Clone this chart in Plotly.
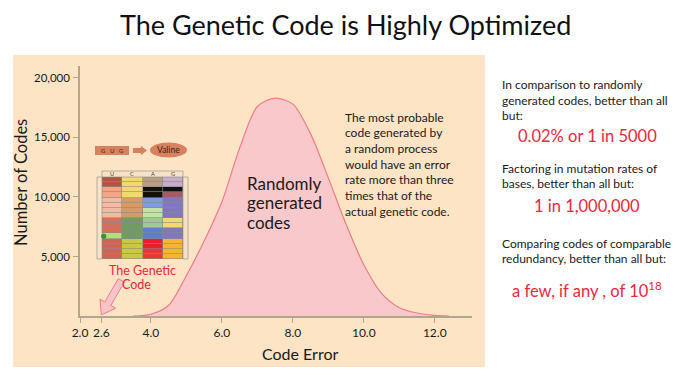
import plotly.graph_objects as go

# ---------------- data ----------------
code_error = [3.5, 4.0, 4.5, 5.0, 5.5, 6.0, 6.5, 7.0, 7.5, 8.0, 8.5, 9.0, 9.5, 10.0, 10.5, 11.0, 11.5, 12.0, 12.4]
num_codes = [0, 150, 900, 3400, 6300, 9600, 14100, 17600, 18300, 17800, 15300, 11600, 7700, 4300, 1900, 700, 250, 60, 0]

x_tick_vals = [2.0, 2.6, 4.0, 6.0, 8.0, 10.0, 12.0]
x_tick_text = ["2.0", "2.6", "4.0", "6.0", "8.0", "10.0", "12.0"]
y_tick_vals = [5000, 10000, 15000, 20000]
y_tick_text = ["5,000", "10,000", "15,000", "20,000"]
genetic_code_error = 2.6

title_text = "The Genetic Code is Highly Optimized"
x_title = "Code Error"
y_title = "Number of Codes"
curve_label = ["Randomly", "generated", "codes"]
note_lines = ["The most probable", "code generated by", "a random process",
              "would have an error", "rate more than three", "times that of the",
              "actual genetic code."]
gc_label = ["The Genetic", "Code"]
side_blocks = [
    (["In comparison to randomly", "generated codes, better than all", "but:"], "0.02% or 1 in 5000"),
    (["Factoring in mutation rates of", "bases, better than all but:"], "1 in 1,000,000"),
    (["Comparing codes of comparable", "redundancy, better than all but:"], "a few, if any , of 10<sup>18</sup>"),
]

# genetic code table (rows = first+third base, cols = second base U C A G)
code_table = [
    ["Phe", "Ser", "Tyr", "Cys"],
    ["Phe", "Ser", "Tyr", "Cys"],
    ["Leu", "Ser", "Stop", "Stop"],
    ["Leu", "Ser", "Stop", "Trp"],
    ["Leu2", "Pro", "His", "Arg"],
    ["Leu2", "Pro", "His", "Arg"],
    ["Leu2", "Pro", "Gln", "Arg"],
    ["Leu2", "Pro", "Gln", "Arg"],
    ["Ile", "Thr", "Asn", "Ser"],
    ["Ile", "Thr", "Asn", "Ser"],
    ["Ile", "Thr", "Lys", "Arg"],
    ["Met", "Thr", "Lys", "Arg"],
    ["Val", "Ala", "Asp", "Gly"],
    ["Val", "Ala", "Asp", "Gly"],
    ["Val", "Ala", "Glu", "Gly"],
    ["Val", "Ala", "Glu", "Gly"],
]
aa_colors = {
    "Phe": "#B3563D", "Leu": "#F2A487", "Leu2": "#F5B8A0", "Ile": "#D2705A",
    "Met": "#B5DD7C", "Val": "#CC6652", "Ser": "#F3D86E", "Pro": "#D69A62",
    "Thr": "#6F9C62", "Ala": "#C9C648", "Tyr": "#B89C84", "Stop": "#111111",
    "His": "#7E9CDB", "Gln": "#C3E2A5", "Asn": "#9DCB92", "Lys": "#5B7FCB",
    "Asp": "#E8222D", "Glu": "#E33A34", "Cys": "#C6ADCB", "Trp": "#A35B6B",
    "Arg": "#8076C2", "Gly": "#F4B632",
}

# ---------------- layout geometry ----------------
# the page body adds an 8px offset; the figure is sized to fit inside the window
OFF = 8
W, H = 698 - OFF, 382 - OFF
X0, X1, Y0, Y1 = 80, 472, 66, 316          # plot area in window pixels
ML, MT = X0 - OFF, Y0 - OFF
MR, MB = W - (X1 - OFF), H - (Y1 - OFF)
PW, PH = X1 - X0, Y1 - Y0
XR = [2.0, 13.05]
YR = [0, 21000]
FONT = "Lato, 'Open Sans', sans-serif"
RED = "#E8283C"


def pxx(px):
    return (px - X0) / PW


def pxy(py):
    return (Y1 - py) / PH


def px2dx(px):
    return XR[0] + (px - X0) / PW * (XR[1] - XR[0])


def px2dy(py):
    return YR[0] + (Y1 - py) / PH * (YR[1] - YR[0])


def dx2px(x):
    return X0 + (x - XR[0]) / (XR[1] - XR[0]) * PW


def dy2px(y):
    return Y1 - (y - YR[0]) / (YR[1] - YR[0]) * PH


fig = go.Figure()

fig.add_trace(go.Scatter(
    x=code_error, y=num_codes, mode="lines", fill="tozeroy",
    line=dict(color="#F07C88", width=1.2, shape="spline", smoothing=0.8),
    fillcolor="#F9C8CA", hoverinfo="skip", showlegend=False,
))

# heatmap inset for the genetic code table
names = list(aa_colors.keys())
idx = {n: i for i, n in enumerate(names)}
z = [[idx[c] for c in row] for row in code_table]
n = len(names)
cscale = [[i / (n - 1), aa_colors[nm]] for i, nm in enumerate(names)]
fig.add_trace(go.Heatmap(
    z=z, xaxis="x2", yaxis="y2", colorscale=cscale, zmin=0, zmax=n - 1,
    showscale=False, xgap=0.6, ygap=0.6, hoverinfo="skip",
))

shapes = []
# panel background
shapes.append(dict(type="rect", xref="paper", yref="paper", layer="below",
                   x0=pxx(13), x1=pxx(485), y0=pxy(367), y1=pxy(55),
                   fillcolor="#FDE4C4", line=dict(width=0)))
# table frame
gx0, gx1, gy0, gy1 = 102, 183, 177, 259
shapes.append(dict(type="rect", xref="paper", yref="paper", layer="below",
                   x0=pxx(gx0), x1=pxx(gx1), y0=pxy(gy1), y1=pxy(gy0),
                   fillcolor="#8A8A8A", line=dict(width=0)))
for (a, b) in [(97, gx0), (gx1, 188)]:
    shapes.append(dict(type="rect", xref="paper", yref="paper",
                       x0=pxx(a), x1=pxx(b), y0=pxy(gy1), y1=pxy(gy0),
                       fillcolor="#F6E2C6", line=dict(color="#8A8A8A", width=0.6)))
shapes.append(dict(type="rect", xref="paper", yref="paper",
                   x0=pxx(gx0), x1=pxx(gx1), y0=pxy(gy0), y1=pxy(171),
                   fillcolor="#F6E2C6", line=dict(color="#8A8A8A", width=0.6)))
# green dot on AUG
shapes.append(dict(type="circle", xref="paper", yref="paper",
                   x0=pxx(101.5), x1=pxx(106), y0=pxy(238.5), y1=pxy(234),
                   fillcolor="#2E9A3A", line=dict(color="#1E6A28", width=0.5)))
# GUG box, arrow, Valine ellipse
shapes.append(dict(type="rect", xref="paper", yref="paper",
                   x0=pxx(95), x1=pxx(129), y0=pxy(155), y1=pxy(146),
                   fillcolor="#D9805F", line=dict(width=0)))
ap = [(133, 148), (141, 148), (141, 146), (147, 150.5), (141, 155), (141, 153), (133, 153)]
shapes.append(dict(type="path", xref="paper", yref="paper",
                   path="M " + " L ".join(f"{pxx(a):.4f},{pxy(b):.4f}" for a, b in ap) + " Z",
                   fillcolor="#D9805F", line=dict(width=0)))
shapes.append(dict(type="circle", xref="paper", yref="paper",
                   x0=pxx(150), x1=pxx(187), y0=pxy(157.5), y1=pxy(142.5),
                   fillcolor="#D9805F", line=dict(width=0)))

# fat arrow pointing to the genetic code's error value
tx, ty = dx2px(genetic_code_error), dy2px(0) - 1
dxu, dyu = 0.5, -0.866
nx, ny = -dyu, dxu
head_len, head_w, shaft_w, total = 13, 9, 3.5, 40
bx, by = tx + head_len * dxu, ty + head_len * dyu
ex, ey = tx + total * dxu, ty + total * dyu
pts = [(tx, ty), (bx + head_w * nx, by + head_w * ny), (bx + shaft_w * nx, by + shaft_w * ny),
       (ex + shaft_w * nx, ey + shaft_w * ny), (ex - shaft_w * nx, ey - shaft_w * ny),
       (bx - shaft_w * nx, by - shaft_w * ny), (bx - head_w * nx, by - head_w * ny)]
shapes.append(dict(type="path", xref="x", yref="y",
                   path="M " + " L ".join(f"{px2dx(a):.4f},{px2dy(b):.2f}" for a, b in pts) + " Z",
                   fillcolor="#F9C4C8", line=dict(color="#EE8090", width=1)))

ann = []


def add_text(text, px, py, size, color="#1a1a1a", xanchor="left", **kw):
    ann.append(dict(text=text, xref="paper", yref="paper", x=pxx(px), y=pxy(py),
                    xanchor=xanchor, yanchor="middle", showarrow=False,
                    font=dict(family=FONT, size=size, color=color), **kw))


add_text(title_text, 345, 24, 27, color="#111111", xanchor="center")
add_text(x_title, 300, 353, 16, xanchor="center")
add_text(y_title, 21, 183, 16.5, xanchor="center", textangle=-90)

for i, line in enumerate(curve_label):
    add_text(line, 245, 183 + i * 19.5, 17)
for i, line in enumerate(note_lines):
    add_text(line, 343, 117 + i * 15.7, 12)
add_text(gc_label[0], 142, 270, 12.5, color=RED, xanchor="center")
add_text(gc_label[1], 136, 284, 12.5, color=RED, xanchor="center")

block_y = [(85, 136), (168, 206), (243, 290)]
for (lines, red), (y0, yr) in zip(side_blocks, block_y):
    for i, line in enumerate(lines):
        add_text(line, 500, y0 + i * 15.2, 12)
    add_text(red, 587, yr, 16.5, color=RED, xanchor="center")

# tiny table labels
add_text("G&nbsp;&nbsp;&nbsp;U&nbsp;&nbsp;&nbsp;G", 112, 150.5, 6, color="#3a2218", xanchor="center")
add_text("Valine", 168.5, 150, 8.5, color="#3a2218", xanchor="center")
for i, b in enumerate(["U", "C", "A", "G"]):
    add_text(b, gx0 + (gx1 - gx0) * (i + 0.5) / 4, 174, 5.5, color="#444", xanchor="center")

axis_color = "#B3A58C"
fig.update_layout(
    width=W, height=H, autosize=False,
    margin=dict(l=ML, r=MR, t=MT, b=MB, pad=0),
    paper_bgcolor="white", plot_bgcolor="rgba(0,0,0,0)",
    showlegend=False,
    font=dict(family=FONT, color="#1a1a1a"),
    xaxis=dict(range=XR, showline=True, linecolor=axis_color, linewidth=1.5,
               ticks="outside", ticklen=5, tickcolor=axis_color, tickwidth=1.2,
               tickvals=x_tick_vals, ticktext=x_tick_text,
               tickfont=dict(size=12, color="#1a1a1a"),
               showgrid=False, zeroline=False, fixedrange=True),
    yaxis=dict(range=YR, showline=True, linecolor=axis_color, linewidth=1.5,
               ticks="outside", ticklen=5, tickcolor=axis_color, tickwidth=1.2,
               tickvals=y_tick_vals, ticktext=y_tick_text,
               tickfont=dict(size=11.5, color="#1a1a1a"), ticklabelstandoff=1,
               showgrid=False, zeroline=False, fixedrange=True),
    xaxis2=dict(domain=[pxx(gx0), pxx(gx1)], anchor="y2", visible=False,
                range=[-0.5, 3.5], fixedrange=True),
    yaxis2=dict(domain=[pxy(gy1), pxy(gy0)], anchor="x2", visible=False,
                range=[15.5, -0.5], fixedrange=True),
    shapes=shapes, annotations=ann,
)

fig.write_html("out.html")
